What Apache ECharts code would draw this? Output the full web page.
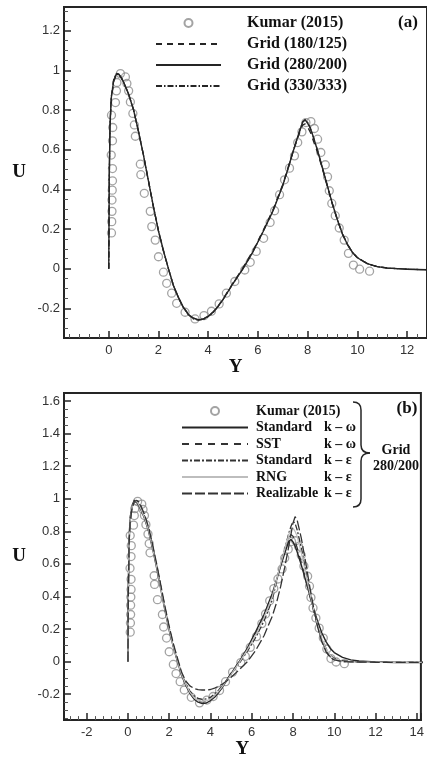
<!DOCTYPE html>
<html>
<head>
<meta charset="utf-8">
<title>U vs Y</title>
<script src="https://cdn.jsdelivr.net/npm/echarts@6.0.0/dist/echarts.min.js"></script>
<style>
  html, body { margin: 0; padding: 0; background: #fff; }
  #chart { width: 427px; height: 760px; }
</style>
</head>
<body>
<div id="chart"></div>
<script>
  // experimental points, Kumar (2015)
  var kumarX = [0.11, 0.12, 0.13, 0.13, 0.14, 0.15, 0.15, 0.1, 0.15, 0.16, 0.11, 0.27, 0.31, 0.33, 0.47, 0.67, 0.73, 0.8, 0.87, 0.97,
    1.03, 1.07, 1.27, 1.29, 1.43, 1.67, 1.73, 1.87, 2.0, 2.2, 2.33, 2.53, 2.73, 3.07, 3.47, 3.83, 4.13, 4.44, 4.73, 5.07,
    5.47, 5.69, 5.93, 6.23, 6.49, 6.67, 6.87, 7.07, 7.27, 7.47, 7.6, 7.77, 7.93, 8.13, 8.27, 8.4, 8.53, 8.71, 8.8, 8.87,
    8.97, 9.11, 9.27, 9.47, 9.64, 9.84, 10.09, 10.49];
  var kumarY = [0.18, 0.237, 0.289, 0.346, 0.396, 0.443, 0.505, 0.573, 0.645, 0.712, 0.774, 0.838, 0.897, 0.939, 0.984, 0.967, 0.934, 0.897, 0.841, 0.783,
    0.725, 0.668, 0.527, 0.474, 0.38, 0.289, 0.212, 0.144, 0.06, -0.018, -0.074, -0.124, -0.175, -0.22, -0.254, -0.237, -0.215, -0.178, -0.124, -0.065,
    -0.007, 0.032, 0.087, 0.153, 0.233, 0.292, 0.373, 0.448, 0.507, 0.569, 0.636, 0.69, 0.737, 0.742, 0.707, 0.653, 0.586, 0.524, 0.463, 0.393,
    0.329, 0.267, 0.205, 0.144, 0.077, 0.018, -0.003, -0.013];

  // simulation stations (Y)
  var simX = [0, 0.02, 0.05, 0.1, 0.2, 0.3, 0.4, 0.5, 0.6, 0.8,
    1.0, 1.2, 1.4, 1.6, 1.8, 2.0, 2.2, 2.4, 2.6, 2.8,
    3.0, 3.2, 3.4, 3.6, 3.8, 4.0, 4.2, 4.4, 4.6, 4.8,
    5.0, 5.4, 5.8, 6.2, 6.6, 7.0, 7.2, 7.4, 7.6, 7.8,
    7.9, 8.0, 8.1, 8.2, 8.4, 8.6, 8.8, 9.0, 9.2, 9.4,
    9.6, 9.8, 10.0, 10.4, 10.8, 11.2, 11.6, 12.0, 13.0, 14.5];

  // (a) grid study
  var grid180 = [0, 0.44, 0.71, 0.85, 0.945, 0.975, 0.978, 0.962, 0.94, 0.88,
    0.80, 0.69, 0.57, 0.44, 0.31, 0.19, 0.09, 0.0, -0.085, -0.145,
    -0.195, -0.23, -0.25, -0.256, -0.254, -0.24, -0.218, -0.188, -0.152, -0.112,
    -0.072, 0.005, 0.09, 0.19, 0.295, 0.425, 0.505, 0.585, 0.66, 0.725,
    0.73, 0.715, 0.69, 0.655, 0.585, 0.5, 0.41, 0.322, 0.243, 0.174,
    0.121, 0.082, 0.055, 0.025, 0.01, 0.003, 0.0, -0.003, -0.006, -0.006];
  var grid280 = [0, 0.45, 0.72, 0.86, 0.95, 0.98, 0.98, 0.965, 0.94, 0.88,
    0.80, 0.69, 0.57, 0.44, 0.31, 0.19, 0.09, 0.0, -0.085, -0.145,
    -0.195, -0.23, -0.25, -0.258, -0.255, -0.24, -0.22, -0.19, -0.155, -0.115,
    -0.075, 0.0, 0.085, 0.185, 0.29, 0.42, 0.50, 0.585, 0.665, 0.74,
    0.75, 0.735, 0.71, 0.675, 0.595, 0.505, 0.415, 0.325, 0.245, 0.175,
    0.122, 0.082, 0.055, 0.025, 0.01, 0.003, 0.0, -0.003, -0.006, -0.006];
  var grid330 = [0, 0.46, 0.73, 0.865, 0.955, 0.985, 0.982, 0.965, 0.94, 0.88,
    0.80, 0.69, 0.57, 0.44, 0.31, 0.19, 0.09, 0.0, -0.085, -0.145,
    -0.197, -0.233, -0.253, -0.26, -0.257, -0.242, -0.221, -0.19, -0.155, -0.115,
    -0.075, 0.0, 0.085, 0.185, 0.29, 0.42, 0.50, 0.585, 0.665, 0.74,
    0.752, 0.737, 0.712, 0.676, 0.596, 0.506, 0.416, 0.326, 0.246, 0.176,
    0.123, 0.083, 0.056, 0.025, 0.01, 0.003, 0.0, -0.003, -0.006, -0.006];

  // (b) turbulence models, grid 280/200
  var stdKOmega = grid280;
  var sstKOmega = [0, 0.46, 0.74, 0.88, 0.96, 0.99, 0.99, 0.975, 0.95, 0.89,
    0.81, 0.70, 0.58, 0.45, 0.32, 0.20, 0.095, 0.005, -0.08, -0.14,
    -0.19, -0.225, -0.243, -0.248, -0.243, -0.23, -0.21, -0.18, -0.147, -0.11,
    -0.072, 0.0, 0.08, 0.175, 0.28, 0.41, 0.50, 0.60, 0.69, 0.76,
    0.78, 0.77, 0.74, 0.70, 0.61, 0.51, 0.41, 0.31, 0.22, 0.14,
    0.08, 0.04, 0.02, 0.005, 0.0, -0.002, -0.003, -0.004, -0.005, -0.005];
  var stdKEps = [0, 0.45, 0.73, 0.87, 0.955, 0.985, 0.99, 0.98, 0.955, 0.895,
    0.815, 0.705, 0.585, 0.455, 0.325, 0.205, 0.10, 0.01, -0.075, -0.135,
    -0.18, -0.21, -0.227, -0.232, -0.23, -0.22, -0.2, -0.175, -0.145, -0.112,
    -0.078, -0.01, 0.065, 0.15, 0.25, 0.38, 0.49, 0.59, 0.69, 0.79,
    0.83, 0.86, 0.85, 0.81, 0.70, 0.57, 0.44, 0.32, 0.21, 0.13,
    0.07, 0.03, 0.01, 0.0, -0.002, -0.003, -0.004, -0.005, -0.005, -0.005];
  var rngKEps = [0, 0.44, 0.72, 0.86, 0.95, 0.98, 0.985, 0.97, 0.945, 0.885,
    0.805, 0.695, 0.575, 0.445, 0.315, 0.195, 0.092, 0.003, -0.08, -0.14,
    -0.188, -0.222, -0.24, -0.245, -0.242, -0.23, -0.21, -0.182, -0.15, -0.115,
    -0.08, -0.005, 0.075, 0.165, 0.27, 0.40, 0.50, 0.60, 0.69, 0.78,
    0.81, 0.82, 0.80, 0.77, 0.67, 0.55, 0.43, 0.32, 0.22, 0.14,
    0.08, 0.04, 0.015, 0.0, -0.002, -0.003, -0.004, -0.005, -0.005, -0.005];
  var realKEps = [0, 0.42, 0.70, 0.85, 0.945, 0.98, 0.99, 0.985, 0.965, 0.905,
    0.825, 0.715, 0.595, 0.465, 0.335, 0.215, 0.11, 0.02, -0.065, -0.12,
    -0.15, -0.165, -0.173, -0.175, -0.175, -0.172, -0.163, -0.152, -0.137, -0.118,
    -0.097, -0.05, 0.0, 0.07, 0.16, 0.28, 0.36, 0.46, 0.58, 0.71,
    0.78, 0.85, 0.89, 0.87, 0.76, 0.62, 0.47, 0.33, 0.21, 0.12,
    0.06, 0.025, 0.01, 0.0, -0.002, -0.003, -0.004, -0.005, -0.005, -0.005];

  var gridNames = ['Grid (180/125)', 'Grid (280/200)', 'Grid (330/333)'];
  var modelNames = ['Standard', 'SST', 'Standard', 'RNG', 'Realizable'];
  var modelKinds = ['k \u2013 \u03c9', 'k \u2013 \u03c9', 'k \u2013 \u03b5', 'k \u2013 \u03b5', 'k \u2013 \u03b5'];

  function pairs(xs, ys) {
    var out = [];
    for (var i = 0; i < xs.length; i++) out.push([xs[i], ys[i]]);
    return out;
  }

  var ink = '#252525';
  var serif = '"Liberation Serif", "Times New Roman", serif';
  var sans = '"Liberation Sans", Arial, sans-serif';

  function xAxis(gridIndex, min, max, padding) {
    return {
      type: 'value', gridIndex: gridIndex, min: min, max: max,
      minInterval: 2, maxInterval: 2,
      name: 'Y', nameLocation: 'middle', nameGap: 19,
      nameTextStyle: { fontFamily: serif, fontWeight: 'bold', fontSize: 19, color: '#111', padding: padding },
      axisLine: { onZero: false, lineStyle: { color: ink, width: 2 } },
      axisTick: { inside: true, length: 7, lineStyle: { color: ink, width: 1.5 } },
      minorTick: { show: true, splitNumber: 5, length: 4, lineStyle: { color: '#555', width: 1 } },
      axisLabel: { showMinLabel: false, showMaxLabel: false, margin: 6, fontFamily: sans, fontSize: 13, color: '#333' },
      splitLine: { show: false }
    };
  }
  function yAxis(gridIndex, min, max) {
    return {
      type: 'value', gridIndex: gridIndex, min: min, max: max,
      minInterval: 0.2, maxInterval: 0.2,
      name: 'U', nameLocation: 'middle', nameGap: 38, nameRotate: 0,
      nameTextStyle: { fontFamily: serif, fontWeight: 'bold', fontSize: 19, color: '#111' },
      axisLine: { onZero: false, lineStyle: { color: ink, width: 2 } },
      axisTick: { inside: true, length: 7, lineStyle: { color: ink, width: 1.5 } },
      minorTick: { show: true, splitNumber: 4, length: 4, lineStyle: { color: '#555', width: 1 } },
      axisLabel: {
        showMinLabel: false, showMaxLabel: false, margin: 4, fontFamily: sans, fontSize: 13, color: '#333',
        formatter: function (v) { return String(Math.round(v * 10) / 10); }
      },
      splitLine: { show: false }
    };
  }

  function kumarSeries(idx) {
    return {
      name: 'Kumar (2015)', type: 'scatter', xAxisIndex: idx, yAxisIndex: idx,
      symbol: 'circle', symbolSize: 8, z: 1,
      itemStyle: { color: 'rgba(0,0,0,0)', borderColor: '#8c8c8c', borderWidth: 1.3 },
      data: pairs(kumarX, kumarY)
    };
  }
  function lineSeries(name, idx, ys, color, type, width) {
    return {
      name: name, type: 'line', xAxisIndex: idx, yAxisIndex: idx,
      symbol: 'none', z: 3,
      lineStyle: { color: color, type: type, width: width },
      itemStyle: { color: color },
      data: pairs(simX, ys)
    };
  }
  // legend entry for a line: only the line sample, no marker on it
  function lineEntry(name) {
    return { name: name, itemStyle: { opacity: 0 } };
  }

  // curly brace next to the legend of (b)
  function brace() {
    var st = { stroke: ink, lineWidth: 1.5, fill: null };
    return [
      { type: 'bezierCurve', shape: { x1: 353, y1: 402, cpx1: 361, cpy1: 402, x2: 361, y2: 410 }, style: st },
      { type: 'line', shape: { x1: 361, y1: 410, x2: 361, y2: 445 }, style: st },
      { type: 'bezierCurve', shape: { x1: 361, y1: 445, cpx1: 361, cpy1: 453, x2: 370, y2: 453 }, style: st },
      { type: 'bezierCurve', shape: { x1: 370, y1: 453, cpx1: 361, cpy1: 453, x2: 361, y2: 461 }, style: st },
      { type: 'line', shape: { x1: 361, y1: 461, x2: 361, y2: 499 }, style: st },
      { type: 'bezierCurve', shape: { x1: 361, y1: 499, cpx1: 361, cpy1: 507, x2: 353, y2: 507 }, style: st }
    ];
  }

  var kindOf = {};
  for (var i = 0; i < modelNames.length; i++) kindOf[modelNames[i] + ' ' + modelKinds[i]] = i;

  var myChart = echarts.init(document.getElementById('chart'));
  var option = {
    backgroundColor: '#fff',
    animation: false,
    grid: [
      { left: 64, top: 7, width: 365, height: 331, show: true, borderColor: ink, borderWidth: 2 },
      { left: 64, top: 393, width: 362, height: 329, show: true, borderColor: ink, borderWidth: 2 }
    ],
    xAxis: [xAxis(0, -1.8, 12.8, [0, 20, 0, 0]), xAxis(1, -3.1, 14.2, 0)],
    yAxis: [yAxis(0, -0.35, 1.32), yAxis(1, -0.36, 1.65)],
    legend: [
      {
        data: ['Kumar (2015)'].concat(gridNames.map(lineEntry)),
        orient: 'vertical', left: 155, top: 15, padding: 0,
        itemWidth: 65, itemHeight: 8, itemGap: 5, selectedMode: false,
        textStyle: { fontFamily: serif, fontWeight: 'bold', fontSize: 16, lineHeight: 16, color: '#111', padding: [0, 0, 0, 21] }
      },
      {
        data: ['Kumar (2015)'].concat(modelNames.map(function (m, i) { return lineEntry(m + ' ' + modelKinds[i]); })),
        orient: 'vertical', left: 181, top: 404, padding: 0,
        itemWidth: 66, itemHeight: 8, itemGap: 2.5, selectedMode: false,
        textStyle: {
          fontFamily: serif, fontWeight: 'bold', fontSize: 14, lineHeight: 14, color: '#111', padding: [0, 0, 0, 3],
          rich: {
            m: { width: 68, fontFamily: serif, fontWeight: 'bold', fontSize: 14, color: '#111' },
            k: { fontFamily: serif, fontWeight: 'bold', fontSize: 14, color: '#111' }
          }
        },
        formatter: function (name) {
          var i = kindOf[name];
          if (i === undefined) return name;
          return '{m|' + modelNames[i] + '}{k|' + modelKinds[i] + '}';
        }
      }
    ],
    graphic: [
      { type: 'text', x: 408, y: 23, style: { text: '(a)', font: 'bold 17px ' + serif, fill: '#111', align: 'center', verticalAlign: 'middle' } },
      { type: 'text', x: 407, y: 409, style: { text: '(b)', font: 'bold 17px ' + serif, fill: '#111', align: 'center', verticalAlign: 'middle' } },
      { type: 'text', x: 396, y: 450, style: { text: 'Grid', font: 'bold 14px ' + serif, fill: '#111', align: 'center', verticalAlign: 'middle' } },
      { type: 'text', x: 396, y: 466, style: { text: '280/200', font: 'bold 14px ' + serif, fill: '#111', align: 'center', verticalAlign: 'middle' } }
    ].concat(brace()),
    series: [
      kumarSeries(0),
      lineSeries(gridNames[0], 0, grid180, ink, [6, 5], 1.3),
      lineSeries(gridNames[1], 0, grid280, ink, 'solid', 1.4),
      lineSeries(gridNames[2], 0, grid330, ink, [6, 2, 1.5, 2], 1.3),
      kumarSeries(1),
      lineSeries(modelNames[0] + ' ' + modelKinds[0], 1, stdKOmega, ink, 'solid', 1.4),
      lineSeries(modelNames[1] + ' ' + modelKinds[1], 1, sstKOmega, '#333', [7, 6], 1.3),
      lineSeries(modelNames[2] + ' ' + modelKinds[2], 1, stdKEps, '#333', [6, 2, 2, 2], 1.3),
      lineSeries(modelNames[3] + ' ' + modelKinds[3], 1, rngKEps, '#bdbdbd', 'solid', 1.2),
      lineSeries(modelNames[4] + ' ' + modelKinds[4], 1, realKEps, '#333', [10, 3], 1.3)
    ]
  };

  myChart.setOption(option);
  window.addEventListener('resize', function () {
    myChart.resize();
  });
</script>
</body>
</html>
